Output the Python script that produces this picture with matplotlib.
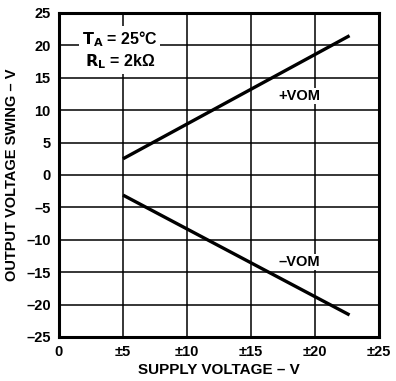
import matplotlib.pyplot as plt
import numpy as np

plt.rcParams['font.family'] = ['Liberation Sans', 'DejaVu Sans']
plt.rcParams['font.weight'] = 'bold'

# supply voltage (±V) and output swing endpoints
supply = [5, 22.7]
vom_pos = [2.5, 21.5]
vom_neg = [-3.1, -21.6]

x_ticks = [0, 5, 10, 15, 20, 25]
x_labels = ['0', '±5', '±10', '±15', '±20', '±25']
y_ticks = list(range(-25, 30, 5))
y_labels = [str(v).replace('-', '–') for v in y_ticks]

fig = plt.figure(figsize=(3.96, 3.81), dpi=100)
ax = fig.add_axes([59 / 396, 1 - 337 / 381, 320 / 396, 324 / 381])

ax.plot(supply, vom_pos, color='black', lw=2.4, solid_capstyle='butt')
ax.plot(supply, vom_neg, color='black', lw=2.4, solid_capstyle='butt')

ax.set_xlim(0, 25)
ax.set_ylim(-25, 25)
ax.set_xticks(x_ticks)
ax.set_xticklabels(x_labels)
ax.set_yticks(y_ticks)
ax.set_yticklabels(y_labels)
ax.tick_params(length=0, labelsize=10.5, pad=6)
for lbl in ax.get_xticklabels() + ax.get_yticklabels():
    lbl.set_fontweight('bold')
ax.grid(True, color='black', lw=1.1)
for s in ax.spines.values():
    s.set_linewidth(2.2)

ax.set_xlabel('SUPPLY VOLTAGE – V', fontsize=11, fontweight='bold', labelpad=3)
ax.set_ylabel('OUTPUT VOLTAGE SWING – V', fontsize=10.5, fontweight='bold', labelpad=5)

ax.text(4.75, 19.3, '$\\mathbf{T_A}$ = 25°C\n$\\mathbf{R_L}$ = 2kΩ', fontsize=11.5,
        fontweight='bold', ha='center', va='center', linespacing=1.25,
        bbox=dict(facecolor='white', edgecolor='none', pad=2))
ax.text(18.75, 12.2, '+VOM', fontsize=10.5, fontweight='bold', ha='center', va='center',
        bbox=dict(facecolor='white', edgecolor='none', pad=0.5))
ax.text(18.8, -13.4, '–VOM', fontsize=10.5, fontweight='bold', ha='center', va='center',
        bbox=dict(facecolor='white', edgecolor='none', pad=0.5))

fig.savefig('out.png', dpi=100)
